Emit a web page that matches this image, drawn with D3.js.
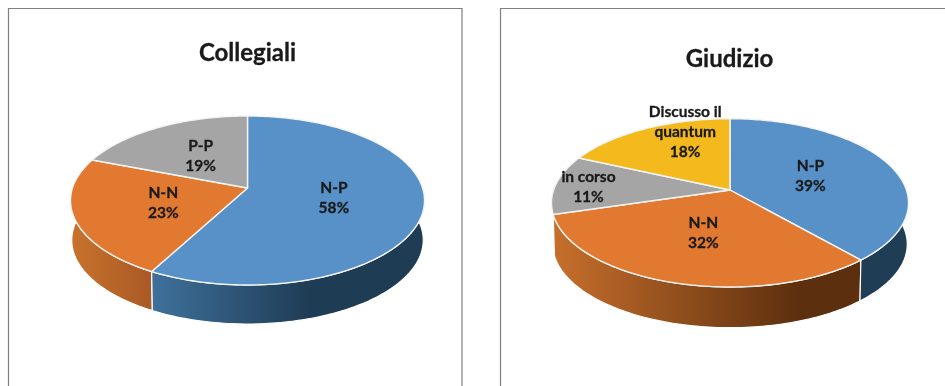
<!DOCTYPE html>
<html>
<head>
<meta charset="utf-8">
<script src="https://cdn.jsdelivr.net/npm/d3@7/dist/d3.min.js"></script>
<style>
html,body{margin:0;padding:0;background:#fff;overflow:hidden}
svg{display:block;filter:blur(.3px)}
text{font-family:Lato,"Open Sans",sans-serif;font-weight:700;fill:#1a1a1a;stroke:#1a1a1a;stroke-width:.3px}
</style>
</head>
<body>
<svg id="chart" width="945" height="386"></svg>
<script>
// ---- data ----
const collegialiLabels = ["N-P", "N-N", "P-P"];
const collegialiValues = [57.9, 22.9, 19.2];
const giudizioLabels = ["N-P", "N-N", "in corso", "Discusso il quantum"];
const giudizioValues = [38.6, 31.8, 11.4, 18.2];

// ---- styling / layout (separate from the data) ----
const topColors = {"N-P":"#5791c8","N-N":"#e27931","P-P":"#a5a5a5","in corso":"#a5a5a5","Discusso il quantum":"#f3b91d"};
const charts = [
  {title:"Collegiali", labels:collegialiLabels, values:collegialiValues,
   frame:{x:8.5,y:8.5,w:453.5}, titleX:247.5, titleY:61,
   apex:[247.5,188], up:72, down:97, rx:177, wallShrink:.993, depth:39.7,
   wallFill:{"N-P":[[150,"#3f719c"],[310,"#1f3c55"],[425,"#1f3c55"]],
             "N-N":[[70,"#c8722d"],[150,"#aa5a25"]],
             "P-P":[[70,"#8a8a8a"],[150,"#8a8a8a"]]},
   labelShift:{}},
  {title:"Giudizio", labels:giudizioLabels, values:giudizioValues,
   frame:{x:500.5,y:8.5,w:600}, titleX:729.5, titleY:67,
   apex:[730,190], up:71.3, down:97, rx:178.5, wallShrink:.993, depth:41.4,
   wallFill:{"N-P":[[850,"#1f3d55"],[910,"#1f3d55"]],
             "N-N":[[553,"#c76f2c"],[800,"#5c2f0e"],[862,"#5c2f0e"]],
             "in corso":[[550,"#8a8a8a"],[600,"#8a8a8a"]],
             "Discusso il quantum":[[550,"#b08512"],[600,"#b08512"]]},
   labelShift:{"in corso":[-54,0],"Discusso il quantum":[0,-26]},
   wrap:{"Discusso il quantum":["Discusso il","quantum"]}}
];

const svg = d3.select("#chart");
const defs = svg.append("defs");
const pieGen = d3.pie().sort(null).value(d => d.value);
const line = d3.line();
const pct = d3.format(".0f");

charts.forEach((c, ci) => {
  const g = svg.append("g");
  g.append("path")
    .attr("d", `M${c.frame.x},400V${c.frame.y}H${c.frame.x + c.frame.w}V400`)
    .attr("fill", "none").attr("stroke", "#7f7f7f").attr("stroke-width", 1.2);
  g.append("text").attr("x", c.titleX).attr("y", c.titleY)
    .attr("text-anchor", "middle").style("font-size", "24px").text(c.title);

  // perspective projection of the unit disc: keeps the slice apex off the ellipse centre
  const k = (c.up - c.down) / (c.up + c.down);
  const A = c.up * (1 - k);
  const D = c.rx * Math.sqrt(1 - k * k);
  const project = (t, r, s = 1, dy = 0) => {
    const u = Math.sin(t) * r, v = -Math.cos(t) * r, w = 1 + k * v;
    return [c.apex[0] + s * D * u / w, c.apex[1] + s * A * v / w + dy];
  };

  const rows = c.labels.map((label, i) => ({label, value: c.values[i]}));
  const arcs = pieGen(rows);
  const samples = a => {
    const n = Math.max(4, Math.ceil((a.endAngle - a.startAngle) / 0.02));
    return d3.range(n + 1).map(i => a.startAngle + (a.endAngle - a.startAngle) * i / n);
  };

  // walls: back slices first
  arcs.slice().reverse().forEach((a, i) => {
    const stops = c.wallFill[a.data.label];
    const id = `wall${ci}-${i}`;
    const grad = defs.append("linearGradient").attr("id", id)
      .attr("gradientUnits", "userSpaceOnUse")
      .attr("x1", stops[0][0]).attr("x2", stops[stops.length - 1][0]).attr("y1", 0).attr("y2", 0);
    const x0 = stops[0][0], x1 = stops[stops.length - 1][0];
    stops.forEach(s => grad.append("stop").attr("offset", (s[0] - x0) / (x1 - x0)).attr("stop-color", s[1]));
    const ts = samples(a);
    const pts = ts.map(t => project(t, 1)).concat(ts.slice().reverse().map(t => project(t, 1, c.wallShrink, c.depth)));
    g.append("path").attr("d", line(pts) + "Z").attr("fill", `url(#${id})`)
      .attr("stroke", "#fff").attr("stroke-width", 1.2).attr("stroke-linejoin", "round");
  });

  // top faces
  arcs.forEach(a => {
    const pts = [c.apex].concat(samples(a).map(t => project(t, 1)));
    g.append("path").attr("d", line(pts) + "Z").attr("fill", topColors[a.data.label])
      .attr("stroke", "#f4f4f4").attr("stroke-width", 1.4).attr("stroke-linejoin", "round");
  });

  // labels
  arcs.forEach(a => {
    const mid = (a.startAngle + a.endAngle) / 2;
    const p = project(mid, .5);
    const shift = c.labelShift[a.data.label] || [0, 0];
    const names = (c.wrap && c.wrap[a.data.label]) || [a.data.label];
    const lines = names.concat([pct(a.data.value) + "%"]);
    const lh = 20;
    const y0 = p[1] + shift[1] - (lines.length - 1) * lh / 2 + 5;
    const t = g.append("text").attr("text-anchor", "middle").style("font-size", "15.5px");
    lines.forEach((s, i) => t.append("tspan").attr("x", p[0] + shift[0]).attr("y", y0 + i * lh).text(s));
  });
});
</script>
</body>
</html>
